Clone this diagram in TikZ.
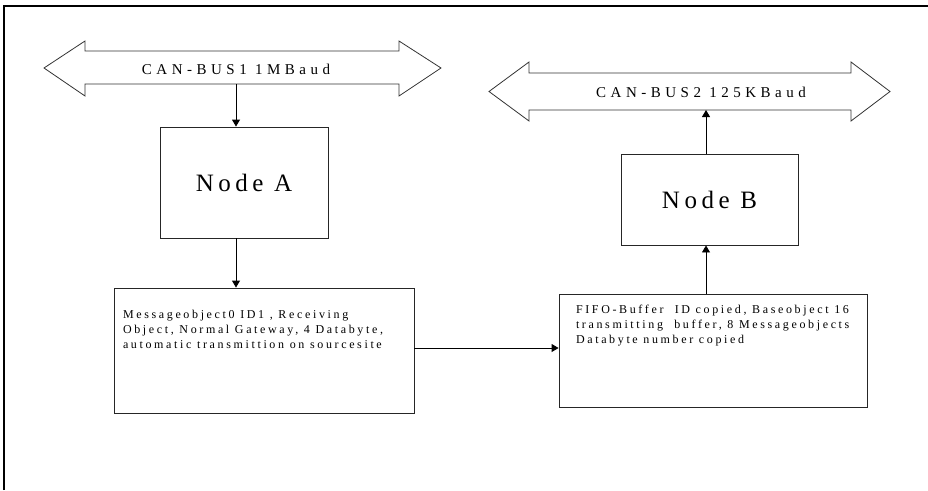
\documentclass[tikz,border=0pt]{standalone}
\usepackage{fontspec}
\setmainfont{Liberation Serif}
\newfontfamily\busfont[LetterSpace=30]{Liberation Serif}
\newfontfamily\bignodefont[LetterSpace=18]{Liberation Serif}
\newfontfamily\msgfont[LetterSpace=22]{Liberation Serif}
\usetikzlibrary{arrows.meta}
\begin{document}
\begin{tikzpicture}[x=1pt,y=-1pt,
  line width=0.9pt,
  conn/.style={draw=black, -{Triangle[length=7pt,width=8pt]}},
  busshape/.style={draw=black!80, line width=0.8pt, fill=white},
  bustext/.style={inner sep=0pt, font=\busfont\fontsize{15}{18}\selectfont},
  bigbox/.style={draw=black!85, minimum width=#1, inner sep=0pt},
  nodetext/.style={font=\bignodefont\fontsize{25}{30}\selectfont},
  msgtext/.style={inner sep=0pt, anchor=north west, align=left,
    font=\msgfont\fontsize{12}{15}\selectfont}
]
\useasboundingbox (0,0) rectangle (928,490);
% outer frame (open at right and bottom)
\draw[line width=2pt] (4,490) -- (4,6) -- (928,6);

% CAN-BUS1
\draw[busshape] (44,68) -- (85,41) -- (85,51) -- (399,51) -- (399,41) -- (441,68)
  -- (399,96) -- (399,84) -- (85,84) -- (85,96) -- cycle;
\node[bustext] (bus1) at (236,69) {CAN-BUS1 1MBaud};
\coordinate (bus1b) at (236,84);

% CAN-BUS2
\draw[busshape] (489,91.5) -- (529,62) -- (529,73) -- (851,73) -- (851,62) -- (890,91.5)
  -- (851,121) -- (851,110) -- (529,110) -- (529,121) -- cycle;
\node[bustext] (bus2) at (701,92) {CAN-BUS2 125KBaud};
\coordinate (bus2b) at (706,110);

% Node A and Node B
\node[bigbox=168pt, minimum height=111pt, nodetext] (nodeA) at (244,182.5) {Node A};
\node[bigbox=177pt, minimum height=91pt, nodetext] (nodeB) at (709.5,199.5) {Node B};

% message boxes
\node[bigbox=300pt, minimum height=125pt] (msgA) at (264,350.5) {};
\node[bigbox=308pt, minimum height=113pt] (msgB) at (713,350.5) {};
\node[msgtext] (msgAtxt) at ([xshift=9pt,yshift=-22pt]msgA.north west)
  {Messageobject0 ID1 , Receiving\\Object, Normal Gateway, 4 Databyte,\\automatic transmittion on sourcesite};
\node[msgtext] (msgBtxt) at ([xshift=17pt,yshift=-11pt]msgB.north west)
  {FIFO-Buffer \ ID copied, Baseobject 16\\transmitting \ buffer, 8 Messageobjects\\Databyte number copied};

% connectors
\draw[conn] (bus1b) -- (bus1b |- nodeA.north);
\draw[conn] (bus1b |- nodeA.south) -- (bus1b |- msgA.north);
\draw[conn] ([yshift=2.5pt]msgA.east) -- ([yshift=2.5pt]msgB.west);
\draw[conn] (bus2b |- msgB.north) -- (bus2b |- nodeB.south);
\draw[conn] (bus2b |- nodeB.north) -- (bus2b);
\end{tikzpicture}
\end{document}
